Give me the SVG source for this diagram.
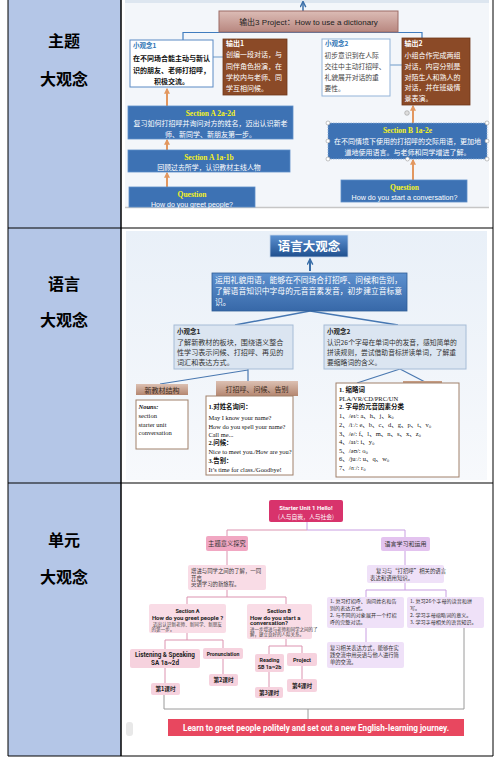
<svg xmlns="http://www.w3.org/2000/svg" width="499" height="759" viewBox="0 0 499 759">
<defs>
<style>
.cjk{font-family:'Noto Sans CJK SC',sans-serif}
.ser{font-family:'Liberation Serif','Noto Sans CJK SC',serif}
.sans{font-family:'Liberation Sans','Noto Sans CJK SC',sans-serif}
.rob{font-family:Roboto,'Noto Sans CJK SC',sans-serif}
.lbl{font-family:'Noto Sans CJK SC',sans-serif;font-size:16px;font-weight:bold;fill:#000;text-anchor:middle}
.w{fill:#fff}
.y{fill:#f7f31c;font-weight:bold}
.mid{text-anchor:middle}
.blue1{fill:#3d72b4;stroke:#5d8ec8;stroke-width:0.8}
.brown1{fill:#8b4a27;stroke:#6f3719;stroke-width:0.8}
.wbox{fill:#fff;stroke:#5b8ac4;stroke-width:1}
.lbox{fill:#dbe5f1;stroke:#a6bcd6;stroke-width:1}
.tbox{fill:#fff;stroke:#a0806a;stroke-width:1}
.pk{fill:#f9dce6}
.pk2{fill:#f6d2de}
.pu{fill:#efe1f8}
.pline{fill:none;stroke:#dc93b0;stroke-width:1}
.uline{fill:none;stroke:#c99ee2;stroke-width:1}
.oarr{stroke:#e2975f;stroke-width:2;marker-end:url(#mo)}
</style>
<marker id="mo" viewBox="0 0 10 10" refX="8" refY="5" markerWidth="6" markerHeight="6" markerUnits="userSpaceOnUse" orient="auto"><path d="M0,0 L10,5 L0,10 z" fill="#e2975f"/></marker>
<marker id="mb" viewBox="0 0 10 10" refX="9" refY="5" markerWidth="7" markerHeight="7" markerUnits="userSpaceOnUse" orient="auto"><path d="M1,1 L9,5 L1,9" fill="none" stroke="#3a6ea8" stroke-width="2"/></marker>
<linearGradient id="g3" x1="0" y1="0" x2="0" y2="1"><stop offset="0" stop-color="#dcbcb6"/><stop offset="1" stop-color="#b8877f"/></linearGradient>
<linearGradient id="gb" x1="0" y1="0" x2="0" y2="1"><stop offset="0" stop-color="#5d92d2"/><stop offset="1" stop-color="#1f4f8e"/></linearGradient>
<linearGradient id="gm" x1="0" y1="0" x2="0" y2="1"><stop offset="0" stop-color="#5e91cf"/><stop offset="1" stop-color="#3768a8"/></linearGradient>
<linearGradient id="gh" x1="0" y1="0" x2="0" y2="1"><stop offset="0" stop-color="#dcc0b2"/><stop offset="1" stop-color="#b48670"/></linearGradient>
<linearGradient id="gbg" x1="0" y1="0" x2="0" y2="1"><stop offset="0" stop-color="#e9f0f8"/><stop offset="1" stop-color="#f7f9fc"/></linearGradient>
</defs>

<!-- table -->
<g id="table">
<rect x="8" y="0" width="113" height="756" fill="#b4c6e7"/>
<rect x="121" y="0" width="372" height="756" fill="#fff"/>
<line x1="8" y1="0" x2="8" y2="756" stroke="#000" stroke-width="1"/>
<line x1="121" y1="0" x2="121" y2="756" stroke="#000" stroke-width="1.5"/>
<line x1="493" y1="0" x2="493" y2="756" stroke="#000" stroke-width="1"/>
<line x1="8" y1="228" x2="493" y2="228" stroke="#000" stroke-width="1.2"/>
<line x1="8" y1="483" x2="493" y2="483" stroke="#000" stroke-width="1.2"/>
<line x1="8" y1="756" x2="493" y2="756" stroke="#000" stroke-width="1.2"/>
<text class="lbl" x="64" y="47">主题</text>
<text class="lbl" x="64" y="85">大观念</text>
<text class="lbl" x="64" y="290">语言</text>
<text class="lbl" x="64" y="326">大观念</text>
<text class="lbl" x="64" y="546">单元</text>
<text class="lbl" x="64" y="583">大观念</text>
</g>

<!-- ROW 1 -->
<g id="row1-bg">
<rect x="125" y="0" width="364" height="207" fill="#f3f6fa"/>
<rect x="125" y="0" width="364" height="3" fill="#dde6f0"/>
<line x1="125" y1="207.5" x2="489" y2="207.5" stroke="#c6c6c6" stroke-width="1.5"/>
</g>
<g id="r1-connectors">
<line x1="303" y1="11" x2="303" y2="1.5" stroke="#3a6ea8" stroke-width="1.5" marker-end="url(#mb)"/>
<polyline points="183,40 183,32.5 422,32.5 422,38" fill="none" stroke="#3f7cbf" stroke-width="1.2"/>
<line x1="213" y1="57" x2="223" y2="57" stroke="#6d9ac9" stroke-width="1"/>
<line x1="390" y1="65" x2="402" y2="65" stroke="#6d9ac9" stroke-width="1"/>
<line class="oarr" x1="167" y1="106" x2="167" y2="89"/>
<line class="oarr" x1="167" y1="150" x2="167" y2="140"/>
<line class="oarr" x1="167" y1="187" x2="167" y2="173"/>
<line class="oarr" x1="413" y1="123" x2="413" y2="106"/>
<line class="oarr" x1="413" y1="180" x2="413" y2="160"/>
</g>
<g id="out3">
<rect x="219" y="11" width="179" height="21" fill="url(#g3)" stroke="#9b6b64" stroke-width="1"/>
<text class="sans mid" x="308.5" y="24.5" font-size="8" fill="#222">输出3 Project：How to use a dictionary</text>
</g>
<g id="idea1">
<rect class="wbox" x="130" y="40" width="83" height="47"/>
<text class="cjk" x="133" y="48" font-size="6.5" font-weight="bold" fill="#2e74b5">小观念1</text>
<g class="cjk mid" font-size="7" font-weight="bold" fill="#111">
<text x="171.5" y="61">在不同场合能主动与新认</text>
<text x="171.5" y="73">识的朋友、老师打招呼，</text>
<text x="171.5" y="84">积极交流。</text>
</g>
</g>
<g id="out1">
<rect class="brown1" x="223" y="39" width="64" height="56"/>
<g class="cjk w" font-size="7">
<text x="226" y="46" font-weight="bold">输出1</text>
<text x="226" y="57">创编一段对话，与</text>
<text x="226" y="69">同伴角色扮演，在</text>
<text x="226" y="80">学校内与老师、同</text>
<text x="226" y="91">学互相问候。</text>
</g>
</g>
<g id="idea2">
<rect x="322" y="39" width="68" height="57" fill="#fff" stroke="#93b3d8" stroke-width="1"/>
<text class="cjk" x="325" y="46" font-size="6.5" font-weight="bold" fill="#2e74b5">小观念2</text>
<g class="cjk" font-size="6.8" fill="#444">
<text x="324.5" y="58">初步意识到在人际</text>
<text x="324.5" y="69">交往中主动打招呼、</text>
<text x="324.5" y="80">礼貌展开对话的重</text>
<text x="324.5" y="91">要性。</text>
</g>
</g>
<g id="out2">
<rect class="brown1" x="402" y="38" width="68" height="67"/>
<g class="cjk w" font-size="7">
<text x="404.5" y="46" font-weight="bold">输出2</text>
<text x="404.5" y="58">小组合作完成两组</text>
<text x="404.5" y="69">对话，内容分别是</text>
<text x="404.5" y="80">对陌生人和熟人的</text>
<text x="404.5" y="90">对话，并在班级情</text>
<text x="404.5" y="101">景表演。</text>
</g>
</g>
<g id="secA2">
<rect class="blue1" x="128" y="106" width="165" height="33"/>
<text class="ser y mid" x="210.5" y="116" font-size="7.5">Section A 2a-2d</text>
<g class="cjk w mid" font-size="7">
<text x="210.5" y="126">复习如何打招呼并询问对方的姓名，迈出认识新老</text>
<text x="210.5" y="137">师、新同学、新朋友第一步。</text>
</g>
</g>
<g id="secA1">
<rect class="blue1" x="128" y="150" width="162" height="22"/>
<text class="ser y mid" x="209" y="160" font-size="7.5">Section A 1a-1b</text>
<text class="cjk w mid" x="209" y="170" font-size="6.9">回顾过去所学，认识教材主线人物</text>
</g>
<g id="qA">
<rect class="blue1" x="129" y="187" width="126" height="20"/>
<text class="ser y mid" x="192" y="197" font-size="7.5">Question</text>
<text class="sans w mid" x="192" y="206.5" font-size="7.5" textLength="82" lengthAdjust="spacingAndGlyphs">How do you greet people?</text>
</g>
<g id="secB">
<rect x="328" y="123" width="159" height="36" fill="#3d72b4" stroke="#8fb0d6" stroke-width="0.8" stroke-dasharray="1.5,1"/>
<text class="ser y mid" x="407.5" y="133" font-size="7.5">Section B 1a-2e</text>
<g class="cjk w mid" font-size="7">
<text x="407.5" y="144">在不同情境下使用的打招呼的交际用语，更加地</text>
<text x="407.5" y="155">道地使用语言。与老师和同学增进了解。</text>
</g>
<g fill="#fff" stroke="#9a9a9a" stroke-width="0.6">
<circle cx="328" cy="123" r="2"/><circle cx="487" cy="123" r="2"/>
<circle cx="328" cy="141" r="2"/><circle cx="487" cy="141" r="2"/>
<circle cx="328" cy="159" r="2"/><circle cx="407.5" cy="159" r="2"/><circle cx="487" cy="159" r="2"/>
<circle cx="407" cy="113" r="2.3" fill="#ddd"/>
</g>
</g>
<g id="qB">
<rect class="blue1" x="341" y="180" width="126" height="22"/>
<text class="ser y mid" x="404.5" y="190" font-size="7.5">Question</text>
<text class="sans w mid" x="404.5" y="200" font-size="7.5" textLength="106" lengthAdjust="spacingAndGlyphs">How do you start a conversation?</text>
</g>

<!-- ROW 2 -->
<g id="row2-bg">
<rect x="126" y="231" width="361" height="249" fill="url(#gbg)"/>
</g>
<g id="r2-connectors">
<line x1="310" y1="271" x2="310" y2="259" stroke="#3a6ea8" stroke-width="2" marker-end="url(#mb)"/>
<line x1="310" y1="311" x2="235" y2="325" stroke="#4677b2" stroke-width="1.5"/>
<line x1="310" y1="311" x2="398" y2="325" stroke="#4677b2" stroke-width="1.5"/>
<line x1="248" y1="369" x2="248" y2="381" stroke="#4a78b0" stroke-width="1.2"/>
<line x1="248" y1="370" x2="160" y2="384" stroke="#4a78b0" stroke-width="1.2"/>
<line x1="400" y1="369" x2="357" y2="383" stroke="#4a78b0" stroke-width="1.2"/>
<line x1="400" y1="369" x2="427" y2="383" stroke="#4a78b0" stroke-width="1.2"/>
<rect x="403" y="381" width="39" height="3" fill="#c49a80"/>
</g>
<g id="lang-big">
<rect x="270" y="235" width="78" height="22" fill="url(#gb)" stroke="#c9d8ea" stroke-width="0.8"/>
<text class="cjk w mid" x="309" y="250.5" font-size="12.5" font-weight="bold">语言大观念</text>
</g>
<g id="lang-mid">
<rect x="212" y="273" width="195" height="38" fill="url(#gm)" stroke="#2f5d96" stroke-width="0.8"/>
<g class="cjk w" font-size="7.8">
<text x="215" y="283">运用礼貌用语，能够在不同场合打招呼、问候和告别，</text>
<text x="215" y="294">了解语音知识中字母的元音音素发音，初步建立音标意</text>
<text x="215" y="305">识。</text>
</g>
</g>
<g id="l-idea1">
<rect class="lbox" x="174" y="325" width="119" height="44"/>
<text class="cjk" x="177" y="333.5" font-size="6.5" font-weight="bold" fill="#222">小观念1</text>
<g class="cjk" font-size="7.1" fill="#333">
<text x="177" y="344.5">了解新教材的板块，围绕语义整合</text>
<text x="177" y="354.5">性学习表示问候、打招呼、再见的</text>
<text x="177" y="364.5">词汇和表达方式。</text>
</g>
</g>
<g id="l-idea2">
<rect class="lbox" x="324" y="325" width="142" height="44"/>
<text class="cjk" x="327" y="333.5" font-size="6.5" font-weight="bold" fill="#222">小观念2</text>
<g class="cjk" font-size="6.8" fill="#333">
<text x="327" y="344.5">认识26个字母在单词中的发音，感知简单的</text>
<text x="327" y="354.5">拼读规则，尝试借助音标拼读单词，了解重</text>
<text x="327" y="364.5">要缩略词的含义。</text>
</g>
</g>
<g id="struct">
<rect x="136" y="384" width="52" height="11" fill="url(#gh)"/>
<text class="cjk mid" x="162" y="392.5" font-size="7" fill="#3a2a20">新教材结构</text>
<rect class="tbox" x="136" y="400" width="52" height="49"/>
<g class="ser" font-size="6.5" fill="#111">
<text x="138.5" y="408.5" font-weight="bold" font-style="italic">Nouns:</text>
<text x="138.5" y="418">section</text>
<text x="138.5" y="426.5">starter unit</text>
<text x="138.5" y="435">conversation</text>
</g>
</g>
<g id="greet">
<rect x="216" y="381" width="82" height="15" fill="url(#gh)"/>
<text class="cjk mid" x="257" y="391.5" font-size="7" fill="#3a2a20">打招呼、问候、告别</text>
<rect class="tbox" x="206" y="396" width="87" height="79"/>
<g class="ser" font-size="6.4" fill="#111">
<text x="208.5" y="408.5" font-weight="bold">1.对姓名询问：</text>
<text x="208.5" y="419.5">May I know your name?</text>
<text x="208.5" y="428.5">How do you spell your name?</text>
<text x="208.5" y="436.5">Call me...</text>
<text x="208.5" y="444.5" font-weight="bold">2.问候：</text>
<text x="208.5" y="453.5">Nice to meet you./How are you?</text>
<text x="208.5" y="462.5" font-weight="bold">3.告别：</text>
<text x="208.5" y="471.5">It’s time for class./Goodbye!</text>
</g>
</g>
<g id="abbr">
<rect class="tbox" x="336" y="383" width="123" height="94"/>
<g class="ser" font-size="6.5" fill="#111">
<text x="339" y="391.5" font-weight="bold">1. 缩略词</text>
<text x="339" y="400.5">PLA/VR/CD/PRC/UN</text>
<text x="339" y="409" font-weight="bold">2. 字母的元音因素分类</text>
<text x="339" y="417.5">1、/eɪ/: a、h、j、k。</text>
<text x="339" y="426.5">2、/iː/: e、b、c、d、g、p、t、v。</text>
<text x="339" y="435.5">3、/e/: f、l、m、n、s、x、z。</text>
<text x="339" y="443.5">4、/aɪ/: i、y。</text>
<text x="339" y="452.5">5、/əʊ/: o。</text>
<text x="339" y="460.5">6、/juː/: u、q、w。</text>
<text x="339" y="469.5">7、/ɑː/: r。</text>
</g>
</g>

<!-- ROW 3 -->
<g id="r3-connectors">
<polyline class="pline" points="227,536 227,530 307,530"/>
<polyline class="uline" points="307,522 307,530 405,530 405,537"/>
<line class="pline" x1="227" y1="551" x2="227" y2="565"/>
<polyline class="pline" points="227,590 227,597"/>
<polyline class="pline" points="187,604 187,597 286,597 286,604"/>
<polyline class="pline" points="187,633 187,640"/>
<polyline class="pline" points="165,649 165,640 223,640 223,648"/>
<line class="pline" x1="165" y1="668" x2="165" y2="683"/>
<line class="pline" x1="223" y1="659" x2="223" y2="674"/>
<polyline class="pline" points="286,639 286,646"/>
<polyline class="pline" points="269,654 269,646 302,646 302,653"/>
<line class="pline" x1="269" y1="672" x2="269" y2="687"/>
<line class="pline" x1="302" y1="666" x2="302" y2="679"/>
<line class="uline" x1="405" y1="551" x2="405" y2="565"/>
<line class="uline" x1="405" y1="583" x2="405" y2="590"/>
<polyline class="uline" points="366,597 366,590 446,590 446,597"/>
<line class="uline" x1="366" y1="628" x2="366" y2="642"/>
<polyline points="164,695 164,709 464,709 464,628" fill="none" stroke="#9a9a9a" stroke-width="1"/>
<line x1="308" y1="709" x2="308" y2="719" stroke="#9a9a9a" stroke-width="1"/>
</g>
<g id="unit-top">
<rect x="269" y="500" width="74" height="22" rx="2" fill="#d8336c"/>
<text class="rob w mid" x="306" y="510" font-size="6" font-weight="bold">Starter Unit 1 Hello!</text>
<text class="cjk w mid" x="306" y="518.5" font-size="5.8">(人与自我，人与社会)</text>
</g>
<g id="theme">
<rect x="206" y="536" width="42" height="15" rx="2" fill="#f1a7c2"/>
<text class="cjk mid" x="227" y="546.3" font-size="6.3" fill="#333">主题意义探究</text>
</g>
<g id="theme-desc">
<rect class="pk" x="188" y="565" width="78" height="25" rx="2"/>
<g class="cjk" font-size="5.4" fill="#333">
<text x="191" y="573">增进与同学之间的了解，一同</text>
<text x="191" y="579.5">开启</text>
<text x="191" y="586">英语学习的新旅程。</text>
</g>
</g>
<g id="u-secA">
<rect class="pk" x="149" y="604" width="77" height="29" rx="2"/>
<text class="rob mid" x="187.5" y="613" font-size="5.6" font-weight="bold" fill="#222">Section A</text>
<text class="rob mid" x="187.5" y="619.5" font-size="6" font-weight="bold" fill="#222">How do you greet people ?</text>
<g class="cjk" font-size="4.6" fill="#444">
<text x="153" y="625.5">迈出认识新老师、新同学、新朋友</text>
<text x="151.5" y="630.5">的第一步。</text>
</g>
</g>
<g id="u-secB">
<rect class="pk" x="247" y="604" width="65" height="35" rx="2"/>
<text class="rob mid" x="279" y="613" font-size="5.6" font-weight="bold" fill="#222">Section B</text>
<text class="rob" x="250" y="619.5" font-size="6" font-weight="bold" fill="#222">How do you start a</text>
<text class="rob" x="250" y="625" font-size="6" font-weight="bold" fill="#222">conversation?</text>
<g class="cjk" font-size="4.5" fill="#444">
<text x="250" y="630.5">进一步增进与老师和同学之间的了</text>
<text x="250" y="635.5">解，建立良好的人际关系。</text>
</g>
</g>
<g id="listen">
<rect class="pk2" x="130" y="649" width="70" height="19" rx="2"/>
<text class="rob mid" x="165" y="656.5" font-size="6.3" font-weight="bold" fill="#222">Listening &amp; Speaking</text>
<text class="rob mid" x="165" y="664.5" font-size="6.3" font-weight="bold" fill="#222">SA 1a~2d</text>
</g>
<g id="pron">
<rect class="pk2" x="203" y="648" width="40" height="11" rx="2"/>
<text class="rob mid" x="223" y="655.8" font-size="5.2" font-weight="bold" fill="#222">Pronunciation</text>
</g>
<g id="read">
<rect class="pk2" x="255" y="654" width="29" height="18" rx="2"/>
<text class="rob mid" x="269.5" y="661.5" font-size="5.4" font-weight="bold" fill="#222">Reading</text>
<text class="rob mid" x="269.5" y="668.8" font-size="5.4" font-weight="bold" fill="#222">SB 1a~2b</text>
</g>
<g id="proj">
<rect class="pk2" x="287" y="653" width="30" height="13" rx="2"/>
<text class="rob mid" x="302" y="661.8" font-size="5.6" font-weight="bold" fill="#222">Project</text>
</g>
<g id="l1"><rect class="pk2" x="151" y="683" width="29" height="12" rx="2"/><text class="cjk mid" x="165.5" y="691.3" font-size="5.6" font-weight="bold" fill="#222">第1课时</text></g>
<g id="l2"><rect class="pk2" x="209" y="674" width="29" height="12" rx="2"/><text class="cjk mid" x="223.5" y="682.3" font-size="5.6" font-weight="bold" fill="#222">第2课时</text></g>
<g id="l3"><rect class="pk2" x="255" y="687" width="28" height="11" rx="2"/><text class="cjk mid" x="269" y="694.8" font-size="5.6" font-weight="bold" fill="#222">第3课时</text></g>
<g id="l4"><rect class="pk2" x="287" y="679" width="30" height="13" rx="2"/><text class="cjk mid" x="302" y="687.8" font-size="5.6" font-weight="bold" fill="#222">第4课时</text></g>
<g id="lang-use">
<rect x="381" y="537" width="49" height="14" rx="2" fill="#e3c3ef"/>
<text class="cjk mid" x="405.5" y="546.3" font-size="6" fill="#333">语言学习和运用</text>
</g>
<g id="lang-desc">
<rect class="pu" x="367" y="565" width="77" height="18" rx="2"/>
<g class="cjk" font-size="5.4" fill="#333">
<text x="376" y="573">复习与“打招呼”相关的语言</text>
<text x="370" y="579.5">表达和语用知识。</text>
</g>
</g>
<g id="lang-a">
<rect class="pu" x="327" y="597" width="77" height="31" rx="2"/>
<g class="cjk" font-size="5.1" fill="#333">
<text x="330" y="603.3">1. 复习打招呼、询问姓名和告</text>
<text x="330" y="610">别的表达方式。</text>
<text x="330" y="617">2. 与不同的对象展开一个打招</text>
<text x="330" y="623.7">呼的完整对话。</text>
</g>
</g>
<g id="lang-b">
<rect class="pu" x="407" y="597" width="77" height="31" rx="2"/>
<g class="cjk" font-size="5.1" fill="#333">
<text x="410" y="603.3">1. 复习26个字母的读音和拼</text>
<text x="410" y="610">写。</text>
<text x="410" y="617">2. 学习字母缩略词的意义。</text>
<text x="410" y="623.7">3. 学习字母相关的语音知识。</text>
</g>
</g>
<g id="lang-c">
<rect class="pu" x="327" y="642" width="77" height="26" rx="2"/>
<g class="cjk" font-size="5.3" fill="#333">
<text x="330" y="649.5">复习相关表达方式，能够在实</text>
<text x="330" y="656.5">践交流中用英语与他人进行简</text>
<text x="330" y="663.5">单的交流。</text>
</g>
</g>
<g id="banner">
<rect x="168" y="719" width="296" height="17" fill="#e8475f"/>
<text class="rob w mid" x="316" y="730.8" font-size="8.5" font-weight="bold" textLength="266" lengthAdjust="spacingAndGlyphs">Learn to greet people politely and set out a new English-learning journey.</text>
</g>
<rect x="126" y="722" width="7" height="14" rx="3" fill="#e8e8e8"/>
</svg>
